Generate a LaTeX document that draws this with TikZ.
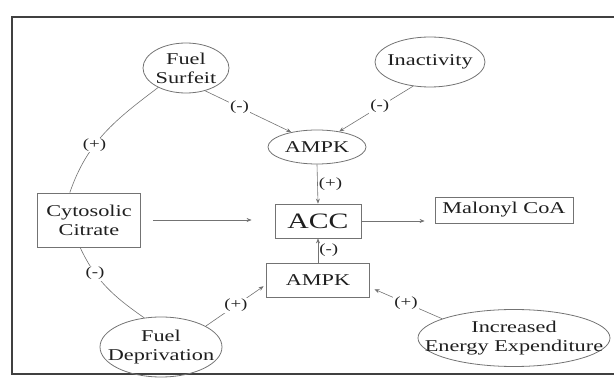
\documentclass[tikz,border=0pt]{standalone}
\usepackage{fontspec}
\setmainfont[FakeStretch=1.35]{Liberation Serif}
\usetikzlibrary{shapes.geometric, arrows.meta}
\definecolor{linegray}{gray}{0.45}
\definecolor{framegray}{gray}{0.25}
\definecolor{inkgray}{gray}{0.12}

\begin{document}
\begin{tikzpicture}[x=1pt, y=-1pt,
		oval/.style={ellipse, draw=linegray, thick, inner sep=0pt, align=center, text=inkgray, font=\fontsize{16.5}{19}\selectfont},
		box/.style={rectangle, draw=linegray, thick, inner sep=0pt, align=center, text=inkgray, font=\fontsize{16.5}{19}\selectfont},
		link/.style={draw=linegray, semithick},
		arr/.style={link, -{Stealth[length=5pt, width=4pt]}},
		sign/.style={fill=white, inner sep=1pt, text=inkgray, font=\fontsize{14}{16}\selectfont}]
	\useasboundingbox (0,0) rectangle (614,382);

	% frame of the scanned figure
	\draw[framegray, line width=1.2pt] (614,17) -- (12,17) -- (12,374) -- (614,374);

	% inputs and enzymes
	\node[oval, minimum width=86, minimum height=50, inner ysep=-2pt] (surfeit) at (186,68) {Fuel\\Surfeit};
	\node[oval, minimum width=110, minimum height=50, inner xsep=-4pt] (inact) at (430,62) {Inactivity};
	\node[oval, minimum width=98, minimum height=34] (ampkA) at (317,147) {AMPK};
	\node[box, minimum width=103, minimum height=54] (citrate) at (89,220) {Cytosolic\\Citrate};
	\node[box, minimum width=86, minimum height=34, font=\fontsize{22}{25}\selectfont] (acc) at (318,221) {ACC};
	\node[box, minimum width=138, minimum height=26] (malonyl) at (504,210) {Malonyl CoA};
	\node[box, minimum width=103, minimum height=34] (ampkB) at (318,280) {AMPK};
	\node[oval, minimum width=122, minimum height=60, inner xsep=-12pt] (depriv) at (161,347) {Fuel\\Deprivation};
	\node[oval, minimum width=192, minimum height=57, inner xsep=-24pt] (energy) at (514,338) {Increased\\Energy Expenditure};

	% citrate loops
	\draw[link] (citrate.125) to[out=71, in=217] node[sign, pos=0.38] {(+)} (surfeit.215);
	\draw[link] (citrate.252) to[out=-65, in=145] node[sign, pos=0.3] {(-)} (depriv.120);

	% into the upper AMPK
	\draw[arr] (surfeit.-50) -- node[sign, pos=0.4] {(-)} (ampkA.150);
	\draw[arr] (inact.-125) -- node[sign, pos=0.45] {(-)} (ampkA.35);

	% into ACC
	\draw[arr] (ampkA.south) -- node[right, sign, fill=none] {(+)} (acc.north);
	\draw[arr] (ampkB.north) -- node[right, sign, fill=none] {(-)} (acc.south);
	\draw[arr, shorten <=12pt, shorten >=23pt] (citrate.east) -- (citrate.east -| acc.west);
	\draw[arr, shorten >=10pt] (acc.east) -- (acc.east -| malonyl.west);

	% into the lower AMPK
	\draw[arr, shorten >=3pt] (depriv.25) -- node[sign] {(+)} (ampkB.185);
	\draw[arr, shorten >=5pt] (energy.165) -- node[sign] {(+)} (ampkB.-8);
\end{tikzpicture}
\end{document}
